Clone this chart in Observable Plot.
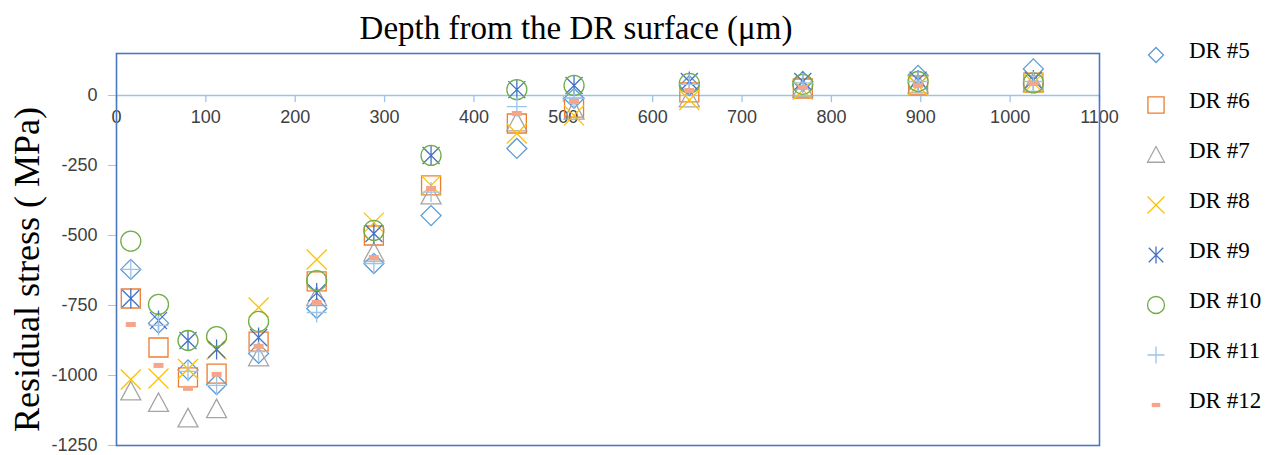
<!DOCTYPE html>
<html>
<head>
<meta charset="utf-8">
<script src="https://cdn.jsdelivr.net/npm/d3@7"></script>
<script src="https://cdn.jsdelivr.net/npm/@observablehq/plot@0.6"></script>
<style>
  html, body { margin: 0; padding: 0; background: #fff; }
  #chart { position: relative; width: 1280px; height: 455px; overflow: hidden; }
  #legend { position: absolute; left: 1130px; top: 0; }
</style>
</head>
<body>
<div id="chart"></div>
<script>
// Depth of each measurement point below the DR surface (µm)
const depth = [16, 47, 80, 112, 159, 224, 288, 352, 448, 512, 641, 768, 897, 1026];

// Residual stress (MPa) per specimen, one value per depth
const dr5  = [-621, -813, -980, -1032, -921, -761, -600, -429, -189, -10, 35, 50, 72, 95];
const dr6  = [-725, -900, -1007, -993, -879, -664, -500, -321, -100, -43, 11, 25, 36, 46];
const dr7  = [-1057, -1098, -1153, -1120, -935, -720, -561, -357, -96, -54, -10, 25, 40, 45];
const dr8  = [-1014, -1011, -977, -907, -757, -586, -454, -321, -136, -71, -16, 20, 35, 45];
const dr9  = [-725, -804, -875, -907, -864, -705, -493, -214, 21, 36, 50, 50, 55, 55];
const dr10 = [-520, -746, -875, -861, -807, -661, -482, -214, 21, 36, 43, 40, 50, 45];
const dr11 = [-621, -821, -985, -1035, -915, -775, -600, -345, -40, -10, 40, 45, 50, 50];
const dr12 = [-818, -964, -1046, -996, -896, -739, -579, -332, -64, -21, 18, 29, 36, 43];

const seriesNames = ["DR #5", "DR #6", "DR #7", "DR #8", "DR #9", "DR #10", "DR #11", "DR #12"];
const xTicks = [0, 100, 200, 300, 400, 500, 600, 700, 800, 900, 1000, 1100];
const yTicks = [0, -250, -500, -750, -1000, -1250];
const titleText = "Depth from the DR surface (μm)";
const yLabelText = "Residual stress ( MPa)";

// Marker shapes in the style of spreadsheet chart markers
const rad = size => Math.sqrt(size / Math.PI);
const diamond = { draw(c, s) { const r = rad(s); c.moveTo(0, -r); c.lineTo(r, 0); c.lineTo(0, r); c.lineTo(-r, 0); c.closePath(); } };
const square = { draw(c, s) { const r = rad(s) * 0.95; c.rect(-r, -r, 2 * r, 2 * r); } };
const triangle = { draw(c, s) { const r = rad(s); c.moveTo(0, -r); c.lineTo(r, r * 0.85); c.lineTo(-r, r * 0.85); c.closePath(); } };
const cross = { draw(c, s) { const r = rad(s); c.moveTo(-r, -r); c.lineTo(r, r); c.moveTo(-r, r); c.lineTo(r, -r); } };
const star = { draw(c, s) { const r = rad(s); const q = r * 0.85; c.moveTo(-q, -q); c.lineTo(q, q); c.moveTo(-q, q); c.lineTo(q, -q); c.moveTo(0, -r); c.lineTo(0, r); } };
const ring = { draw(c, s) { const r = rad(s); c.moveTo(r, 0); c.arc(0, 0, r, 0, 2 * Math.PI); } };
const plus = { draw(c, s) { const r = rad(s); c.moveTo(0, -r); c.lineTo(0, r); c.moveTo(-r, 0); c.lineTo(r, 0); } };
const dash = { draw(c, s) { const r = rad(s); c.rect(-r * 0.5, -r * 0.25, r, r * 0.5); } };

const series = [
  { name: seriesNames[0], values: dr5,  symbol: diamond,  color: "#5B9BD5", filled: false },
  { name: seriesNames[1], values: dr6,  symbol: square,   color: "#ED7D31", filled: false },
  { name: seriesNames[2], values: dr7,  symbol: triangle, color: "#A5A5A5", filled: false },
  { name: seriesNames[3], values: dr8,  symbol: cross,    color: "#FFC000", filled: false },
  { name: seriesNames[4], values: dr9,  symbol: star,     color: "#4472C4", filled: false },
  { name: seriesNames[5], values: dr10, symbol: ring,     color: "#70AD47", filled: false },
  { name: seriesNames[6], values: dr11, symbol: plus,     color: "#9DC3E6", filled: false },
  { name: seriesNames[7], values: dr12, symbol: dash,     color: "#F4A58A", filled: true }
];

const tickShape = { draw(c, l) { c.moveTo(0, 0); c.lineTo(0, -l); } };

const dotMarks = series.map(s =>
  Plot.dot(depth.map((d, i) => ({ depth: d, stress: s.values[i] })), {
    x: "depth",
    y: "stress",
    r: 10,
    symbol: () => s.symbol,
    stroke: s.filled ? "none" : s.color,
    fill: s.filled ? s.color : "none",
    strokeWidth: 1.3
  })
);

const chart = Plot.plot({
  width: 1280,
  height: 455,
  marginLeft: 116,
  marginRight: 181,
  marginTop: 53,
  marginBottom: 10,
  x: { domain: [0, 1100], axis: null },
  y: { domain: [-1250, 150] },
  symbol: { type: "identity" },
  style: { fontFamily: "Liberation Sans, Arial, sans-serif", fontSize: "18px", color: "#404040", background: "white", overflow: "visible" },
  marks: [
    Plot.ruleY([0], { stroke: "#9DC3E6", strokeWidth: 1.5 }),
    Plot.vector(xTicks, { x: d => d, y: 0, length: 6, rotate: 180, anchor: "start", shape: tickShape, stroke: "#9DC3E6", strokeWidth: 1.3, fill: "none" }),
    Plot.text(xTicks, { x: d => d, y: 0, dy: 22, text: d => String(d), fill: "#404040", fontSize: 18 }),
    Plot.axisY({ ticks: yTicks, tickSize: 8, tickPadding: 11, tickFormat: d => String(d), label: null, stroke: "#BFBFBF", fill: "#404040", fontSize: 18 }),
    Plot.frame({ stroke: "#4A76C2", strokeWidth: 1.6 }),
    ...dotMarks,
    Plot.text([yLabelText], { frameAnchor: "left", textAnchor: "middle", lineAnchor: "middle", rotate: -90, dx: -89, dy: 20, fontFamily: "Liberation Serif, Times New Roman, serif", fontSize: 36, fill: "#000" }),
    Plot.text([titleText], { frameAnchor: "top", textAnchor: "middle", dx: -32, dy: -25, lineAnchor: "middle", fontFamily: "Liberation Serif, Times New Roman, serif", fontSize: 33, fill: "#000" })
  ]
});

const root = document.getElementById("chart");
root.appendChild(chart);

// Vertical legend to the right of the plot area
const legend = d3.select(root).append("svg")
  .attr("id", "legend")
  .attr("width", 150)
  .attr("height", 455);

const rows = legend.selectAll("g")
  .data(series)
  .join("g")
  .attr("transform", (d, i) => `translate(0,${50 + 50 * i})`);

rows.append("path")
  .attr("transform", "translate(26,5)")
  .attr("d", d => d3.symbol(d.symbol, Math.PI * (d.symbol === diamond ? 7.5 : 8.5) ** 2)())
  .attr("fill", d => d.filled ? d.color : "none")
  .attr("stroke", d => d.filled ? "none" : d.color)
  .attr("stroke-width", 1.3);

rows.append("text")
  .attr("x", 59)
  .attr("dy", "0.35em")
  .attr("font-family", "Liberation Serif, Times New Roman, serif")
  .attr("font-size", 23)
  .attr("fill", "#000")
  .text(d => d.name);
</script>
</body>
</html>
